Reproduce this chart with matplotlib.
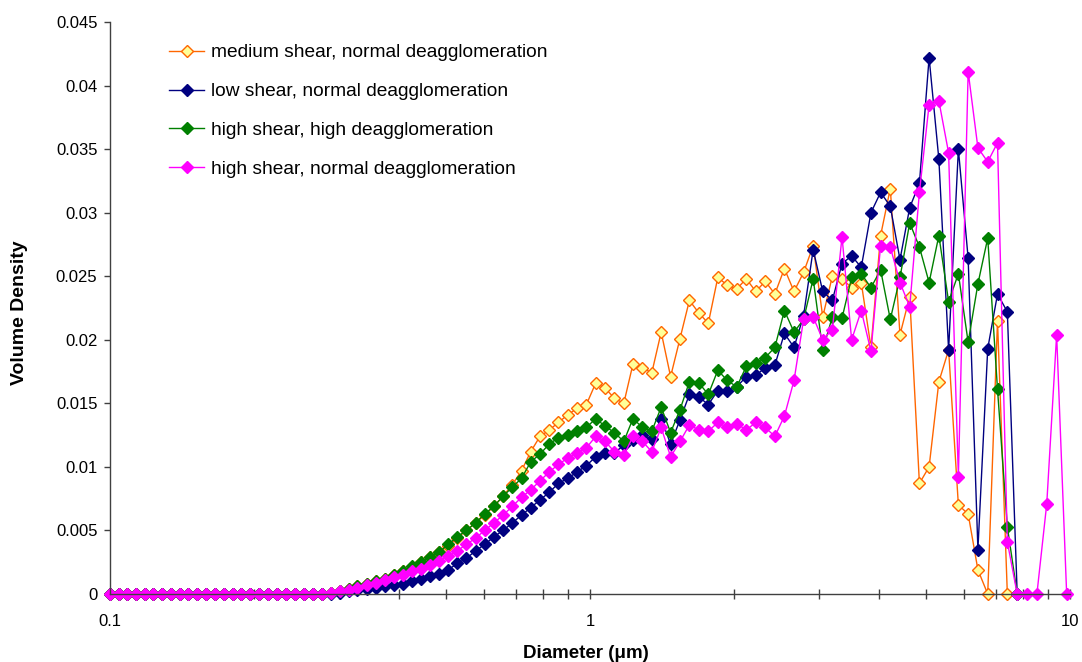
import matplotlib
matplotlib.use('Agg')
import matplotlib.pyplot as plt
from matplotlib.ticker import FixedLocator, FuncFormatter, LogLocator, NullFormatter

plt.rcParams['font.family'] = ['Liberation Sans', 'DejaVu Sans']

# particle diameter grid (um)
diameter = [
    0.1000, 0.1042, 0.1087, 0.1133, 0.1182, 0.1232, 0.1285, 0.1340, 0.1397, 0.1457,
    0.1520, 0.1586, 0.1654, 0.1726, 0.1800, 0.1878, 0.1960, 0.2045, 0.2134, 0.2227,
    0.2325, 0.2426, 0.2533, 0.2644, 0.2760, 0.2881, 0.3008, 0.3140, 0.3278, 0.3423,
    0.3574, 0.3733, 0.3898, 0.4071, 0.4252, 0.4442, 0.4640, 0.4847, 0.5063, 0.5290,
    0.5527, 0.5776, 0.6035, 0.6307, 0.6591, 0.6889, 0.7200, 0.7526, 0.7867, 0.8224,
    0.8597, 0.8989, 0.9398, 0.9827, 1.028, 1.075, 1.124, 1.176, 1.229, 1.286,
    1.345, 1.407, 1.472, 1.540, 1.611, 1.686, 1.764, 1.846, 1.932, 2.022,
    2.116, 2.215, 2.318, 2.427, 2.541, 2.661, 2.786, 2.917, 3.054, 3.198,
    3.350, 3.508, 3.674, 3.849, 4.031, 4.223, 4.424, 4.635, 4.856, 5.087,
    5.331, 5.586, 5.854, 6.135, 6.429, 6.739, 7.063, 7.404, 7.762, 8.138,
    8.532, 8.945, 9.379, 9.841,
]

medium_normal = [0.0] * 25 + [
    0.0001, 0.0002, 0.0004, 0.0006, 0.0008, 0.0010, 0.0012, 0.0015, 0.0018, 0.0021,
    0.0025, 0.0029, 0.0033, 0.0038, 0.0044, 0.0050, 0.0056, 0.0062, 0.0069, 0.0077,
    0.0086, 0.0097, 0.0112, 0.0124, 0.0129, 0.0135, 0.0141, 0.0146, 0.0149, 0.0166,
    0.0162, 0.0154, 0.0150, 0.0181, 0.0178, 0.0174, 0.0206, 0.0171, 0.0201, 0.0231,
    0.0221, 0.0213, 0.0249, 0.0243, 0.0240, 0.0248, 0.0238, 0.0246, 0.0236, 0.0256,
    0.0238, 0.0253, 0.0274, 0.0218, 0.0250, 0.0248, 0.0241, 0.0245, 0.0194, 0.0282,
    0.0319, 0.0204, 0.0234, 0.0087, 0.0100, 0.0167, 0.0192, 0.0070, 0.0063, 0.0019,
    0.0, 0.0215, 0.0,
]

low_normal = [0.0] * 26 + [
    0.0001, 0.0002, 0.0003, 0.0004, 0.0005, 0.0006, 0.0007, 0.0008, 0.0010,
    0.0012, 0.0014, 0.0016, 0.0019, 0.0024, 0.0028, 0.0034, 0.0039, 0.0045, 0.0050,
    0.0056, 0.0062, 0.0068, 0.0074, 0.0080, 0.0087, 0.0091, 0.0096, 0.0101, 0.0108,
    0.0111, 0.0111, 0.0117, 0.0121, 0.0125, 0.0122, 0.0138, 0.0118, 0.0137, 0.0157,
    0.0155, 0.0149, 0.0160, 0.0160, 0.0163, 0.0171, 0.0172, 0.0178, 0.0180, 0.0205,
    0.0194, 0.0219, 0.0271, 0.0238, 0.0231, 0.0260, 0.0266, 0.0257, 0.0300, 0.0316,
    0.0305, 0.0263, 0.0304, 0.0323, 0.0422, 0.0342, 0.0192, 0.0350, 0.0264, 0.0035,
    0.0193, 0.0236, 0.0222, 0.0,
]

high_high = [0.0] * 25 + [
    0.0001, 0.0002, 0.0004, 0.0006, 0.0008, 0.0010, 0.0012, 0.0015, 0.0018, 0.0022,
    0.0025, 0.0029, 0.0033, 0.0039, 0.0045, 0.0050, 0.0056, 0.0063, 0.0069, 0.0077,
    0.0084, 0.0091, 0.0104, 0.0110, 0.0118, 0.0123, 0.0125, 0.0128, 0.0131, 0.0138,
    0.0132, 0.0127, 0.0120, 0.0138, 0.0131, 0.0128, 0.0147, 0.0127, 0.0145, 0.0167,
    0.0166, 0.0157, 0.0176, 0.0168, 0.0163, 0.0179, 0.0182, 0.0186, 0.0194, 0.0223,
    0.0206, 0.0216, 0.0248, 0.0192, 0.0218, 0.0217, 0.0249, 0.0252, 0.0241, 0.0255,
    0.0216, 0.0249, 0.0292, 0.0273, 0.0245, 0.0282, 0.0230, 0.0252, 0.0198, 0.0244,
    0.0280, 0.0161, 0.0053, 0.0,
]

high_normal = [0.0] * 25 + [
    0.0001, 0.0002, 0.0003, 0.0005, 0.0007, 0.0009, 0.0011, 0.0013, 0.0015, 0.0018,
    0.0020, 0.0023, 0.0026, 0.0030, 0.0034, 0.0039, 0.0044, 0.0050, 0.0056, 0.0062,
    0.0069, 0.0076, 0.0082, 0.0089, 0.0096, 0.0102, 0.0107, 0.0111, 0.0115, 0.0124,
    0.0120, 0.0112, 0.0109, 0.0124, 0.0120, 0.0112, 0.0131, 0.0108, 0.0120, 0.0133,
    0.0129, 0.0128, 0.0135, 0.0131, 0.0134, 0.0129, 0.0135, 0.0131, 0.0124, 0.0140,
    0.0168, 0.0216, 0.0218, 0.0200, 0.0208, 0.0281, 0.0200, 0.0223, 0.0191, 0.0274,
    0.0273, 0.0245, 0.0226, 0.0316, 0.0385, 0.0388, 0.0347, 0.0092, 0.0411, 0.0351,
    0.0340, 0.0355, 0.0041, 0.0, 0.0, 0.0, 0.0071, 0.0204, 0.0,
]

series = [
    ('medium shear, normal deagglomeration', medium_normal, '#FF6600', '#FFFF99'),
    ('low shear, normal deagglomeration', low_normal, '#000080', '#000080'),
    ('high shear, high deagglomeration', high_high, '#008000', '#008000'),
    ('high shear, normal deagglomeration', high_normal, '#FF00FF', '#FF00FF'),
]

W, H = 1082, 662
fig = plt.figure(figsize=(W / 100, H / 100), dpi=100)
ax = fig.add_axes([110 / W, 1 - 594 / H, 960 / W, 572 / H])

for label, vals, color, face in series:
    ax.plot(diameter[:len(vals)], vals, '-', color=color, lw=1.0,
            marker='D', ms=6.6, mfc=face, mec=color, mew=1.0,
            label=label, clip_on=False)

ax.set_xscale('log')
ax.set_xlim(0.1, 10)
ax.set_ylim(0, 0.045)

# axes lines only on left and bottom
for side in ['top', 'right']:
    ax.spines[side].set_visible(False)
for side in ['left', 'bottom']:
    ax.spines[side].set_color('#404040')
    ax.spines[side].set_linewidth(1.0)

y_ticks = [0, 0.005, 0.01, 0.015, 0.02, 0.025, 0.03, 0.035, 0.04, 0.045]
ax.yaxis.set_major_locator(FixedLocator(y_ticks))
ax.yaxis.set_major_formatter(FuncFormatter(lambda v, pos: '%g' % v))
ax.xaxis.set_major_locator(FixedLocator([0.1, 1, 10]))
ax.xaxis.set_major_formatter(FuncFormatter(lambda v, pos: '%g' % v))
ax.xaxis.set_minor_locator(LogLocator(base=10, subs=range(2, 10)))
ax.xaxis.set_minor_formatter(NullFormatter())

ax.tick_params(axis='y', which='major', direction='out', length=4, width=1.0,
               color='#404040', labelsize=12, pad=5)
ax.tick_params(axis='x', which='both', direction='inout', length=7, width=1.0,
               color='#404040', labelsize=12, pad=11)

fig.text(586 / W, 1 - 653 / H, 'Diameter (\u03bcm)', ha='center', va='center',
         fontsize=13.5, fontweight='bold')
fig.text(20 / W, 1 - 313 / H, 'Volume Density', ha='center', va='center',
         rotation=90, fontsize=14, fontweight='bold')

ax.legend(loc='upper left', bbox_to_anchor=(169 / W, 1 - 44 / H),
          bbox_transform=fig.transFigure, frameon=False, fontsize=13.8,
          handlelength=1.85, handletextpad=0.32, labelspacing=1.12,
          borderpad=0, borderaxespad=0)

fig.savefig('out.png', dpi=100)
